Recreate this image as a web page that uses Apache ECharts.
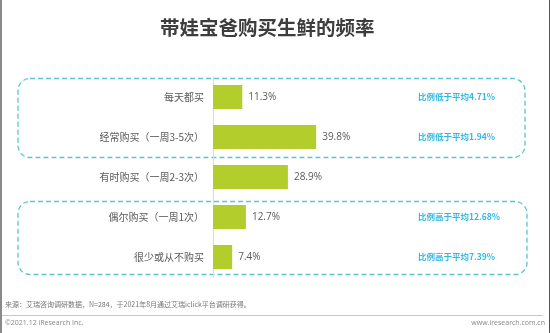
<!DOCTYPE html>
<html>
<head>
<meta charset="utf-8">
<script src="https://cdn.jsdelivr.net/npm/echarts@6/dist/echarts.min.js"></script>
<style>
  html, body { margin: 0; padding: 0; background: #fff; }
  #chart { width: 550px; height: 333px; }
</style>
</head>
<body>
<div id="chart"></div>
<script>
// Purchase frequency categories (top to bottom) and their shares in percent
const categories = ['每天都买', '经常购买（一周3-5次）', '有时购买（一周2-3次）', '偶尔购买（一周1次）', '很少或从不购买'];
const shares = [11.3, 39.8, 28.9, 12.7, 7.4];
// Comparison notes shown at the right of each row
const notes = ['比例低于平均4.71%', '比例低于平均1.94%', '', '比例高于平均12.68%', '比例高于平均7.39%'];

const FONT = '"Open Sans", "Noto Sans CJK SC", sans-serif';
const CJK = '"Noto Sans CJK SC", sans-serif';
const teal = '#5cc6cf';

const chart = echarts.init(document.getElementById('chart'), null, { renderer: 'canvas' });

chart.setOption({
  animation: false,
  title: {
    text: '带娃宝爸购买生鲜的频率',
    left: 155,
    top: 13,
    textStyle: { fontFamily: CJK, fontSize: 19.5, fontWeight: 'bold', color: '#3d3d3d' }
  },
  grid: { left: 213, top: 77, width: 197, height: 200 },
  xAxis: {
    type: 'value', min: 0, max: 76, show: false
  },
  yAxis: [
    {
      type: 'category',
      inverse: true,
      data: categories,
      axisLine: { show: true, lineStyle: { color: '#dcdcdc', width: 1 } },
      axisTick: { show: false },
      axisLabel: { margin: 9, fontFamily: CJK, fontSize: 10, color: '#5a5a5a' }
    },
    {
      type: 'category',
      inverse: true,
      position: 'right',
      data: notes,
      axisLine: { show: false },
      axisTick: { show: false },
      axisLabel: { margin: 8, fontFamily: CJK, fontSize: 8.5, fontWeight: 'bold', color: '#33b9e6', align: 'left' }
    }
  ],
  series: [{
    type: 'bar',
    data: shares,
    barWidth: 24,
    itemStyle: { color: '#b3cd2c' },
    label: {
      show: true,
      position: 'right',
      distance: 6,
      formatter: p => p.value.toFixed(1) + '%',
      fontFamily: FONT,
      fontSize: 10,
      color: '#5a5a5a'
    }
  }],
  graphic: [
    // left and right page edges
    { type: 'rect', shape: { x: 0, y: 0, width: 2, height: 333 }, style: { fill: '#8a8a8a' }, silent: true },
    { type: 'rect', shape: { x: 549, y: 0, width: 1, height: 333 }, style: { fill: '#555' }, silent: true },
    // dashed group outlines
    {
      type: 'rect', shape: { x: 18, y: 78.5, width: 507, height: 79, r: 12 },
      style: { fill: 'none', stroke: teal, lineWidth: 1.3, lineDash: [5, 3] }, silent: true
    },
    {
      type: 'rect', shape: { x: 18, y: 201.5, width: 509, height: 73, r: 12 },
      style: { fill: 'none', stroke: teal, lineWidth: 1.3, lineDash: [5, 3] }, silent: true
    },
    // footer
    {
      type: 'text', left: 5, top: 301,
      style: { text: '来源：艾瑞咨询调研数据，N=284，于2021年8月通过艾瑞iclick平台调研获得。', font: '7px ' + CJK, fill: '#777' }
    },
    { type: 'rect', shape: { x: 2, y: 315, width: 541, height: 1 }, style: { fill: '#c8c8c8' }, silent: true },
    {
      type: 'text', left: 5, top: 319,
      style: { text: '©2021.12 iResearch Inc.', font: '7px ' + FONT, fill: '#888' }
    },
    {
      type: 'text', right: 5, top: 319,
      style: { text: 'www.iresearch.com.cn', font: '7px ' + FONT, fill: '#888' }
    }
  ]
});
</script>
</body>
</html>
